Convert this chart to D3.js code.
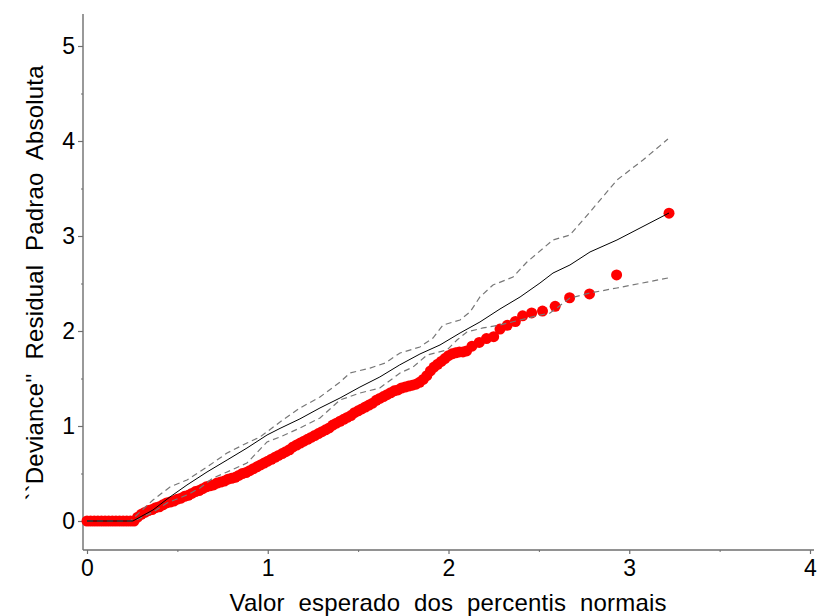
<!DOCTYPE html>
<html>
<head>
<meta charset="utf-8">
<script src="https://cdn.jsdelivr.net/npm/d3@7"></script>
<style>
  body { margin: 0; background: #fff; }
  text { font-family: "Liberation Sans", Arial, Helvetica, sans-serif; fill: #000; }
</style>
</head>
<body>
<svg id="chart" width="820" height="616"></svg>
<script>
// half-normal plot of absolute deviance residuals, with simulated envelope

// observed points (expected half-normal percentile, |deviance residual|)
var point_x = [0.00,0.02,0.04,0.06,0.08,0.10,0.12,0.14,0.16,0.18,0.20,0.22,0.24,0.26,
  0.28,0.30,0.32,0.34,0.36,0.38,0.40,0.42,0.44,0.46,0.48,0.50,0.52,0.54,0.56,0.58,
  0.60,0.62,0.64,0.66,0.68,0.70,0.72,0.74,0.76,0.78,0.80,0.82,0.84,0.86,0.88,0.90,
  0.92,0.94,0.96,0.98,1.00,1.02,1.04,1.06,1.08,1.10,1.12,1.14,1.16,1.18,1.20,1.22,
  1.24,1.26,1.28,1.30,1.32,1.34,1.36,1.38,1.40,1.42,1.44,1.46,1.48,1.50,1.52,1.54,
  1.56,1.58,1.60,1.62,1.64,1.66,1.68,1.70,1.72,1.74,1.76,1.78,1.80,1.82,1.84,1.86,
  1.88,1.90,1.92,1.94,1.96,1.98,2.00,2.02,2.04,2.06,2.08,2.10,
  2.13,2.17,2.21,2.25,2.285,2.325,2.37,2.41,2.46,2.52,2.59,2.67,2.78,2.93,3.22];
var point_y = [0,0,0,0,0,0,0,0,0,0,0,0,0,0,
  0.04,0.07,0.09,0.11,0.12,0.14,0.15,0.17,0.19,0.20,0.21,0.23,0.24,0.26,0.27,0.29,
  0.31,0.32,0.34,0.36,0.37,0.38,0.40,0.41,0.42,0.44,0.45,0.46,0.48,0.50,0.51,0.53,
  0.55,0.57,0.59,0.61,0.63,0.65,0.67,0.69,0.71,0.73,0.75,0.78,0.80,0.82,0.84,0.86,
  0.88,0.90,0.92,0.94,0.96,0.98,1.01,1.03,1.05,1.07,1.09,1.11,1.14,1.16,1.18,1.20,
  1.22,1.24,1.27,1.29,1.31,1.33,1.35,1.37,1.38,1.40,1.41,1.42,1.43,1.44,1.46,1.49,
  1.53,1.58,1.62,1.65,1.68,1.71,1.74,1.76,1.77,1.78,1.78,1.79,
  1.84,1.88,1.92,1.94,2.02,2.06,2.10,2.16,2.19,2.21,2.26,2.35,2.39,2.59,3.24];

// envelope: median (solid)
var mid_x = [0,0.254,0.365,0.459,0.553,0.664,0.775,0.885,0.996,1.068,1.178,1.289,1.40,1.51,
  1.62,1.73,1.842,1.953,2.064,2.174,2.285,2.396,2.506,2.578,2.672,2.783,2.932,3.22];
var mid_y = [0,0,0.116,0.253,0.379,0.516,0.642,0.768,0.905,0.975,1.075,1.19,1.295,1.41,
  1.516,1.643,1.758,1.853,1.979,2.095,2.232,2.358,2.505,2.61,2.695,2.832,2.958,3.242];

// envelope: upper limit (dashed)
var upper_x = [0,0.24,0.365,0.459,0.553,0.664,0.775,0.885,0.957,1.068,1.178,1.289,1.40,1.455,
  1.566,1.649,1.732,1.842,1.914,1.970,2.064,2.119,2.174,2.246,2.357,2.434,2.578,2.672,
  2.783,2.932,3.076,3.214];
var upper_y = [0,0,0.221,0.358,0.432,0.568,0.716,0.821,0.884,1.042,1.189,1.305,1.463,1.558,
  1.61,1.663,1.768,1.832,1.926,2.063,2.116,2.2,2.358,2.484,2.568,2.726,2.958,3.01,
  3.253,3.589,3.8,4.021];

// envelope: lower limit (dashed)
var lower_x = [0,0.26,0.365,0.443,0.553,0.625,0.697,0.775,0.885,0.996,1.068,1.178,1.289,1.40,
  1.51,1.62,1.732,1.804,1.881,1.992,2.047,2.102,2.191,2.285,2.396,2.506,2.562,2.672,
  2.783,2.932,3.214];
var lower_y = [0,0,0.095,0.189,0.274,0.347,0.453,0.516,0.61,0.832,0.884,0.979,1.084,1.274,
  1.347,1.4,1.558,1.621,1.747,1.8,1.905,1.99,2.032,2.063,2.116,2.168,2.189,2.347,
  2.4,2.453,2.558];

var x_ticks = [0, 1, 2, 3, 4];
var x_minor = [0.5, 1.5, 2.5, 3.5];
var y_ticks = [0, 1, 2, 3, 4, 5];
var y_minor = [0.5, 1.5, 2.5, 3.5, 4.5];

var x_title = "Valor  esperado  dos  percentis  normais";
var y_title = "``Deviance''  Residual  Padrao  Absoluta";

var svg = d3.select("#chart");

var x = d3.scaleLinear().domain([0, 4]).range([87, 810]);
var y = d3.scaleLinear().domain([0, 5]).range([521, 46]);

var axis_left = 83, axis_bottom = 550, axis_top = 14, axis_right = 814;
var axis_color = "#6e6e6e";
var font = '"Liberation Sans", Arial, sans-serif';

// axis lines
svg.append("line")
    .attr("x1", axis_left).attr("x2", axis_left)
    .attr("y1", axis_top).attr("y2", axis_bottom)
    .attr("stroke", axis_color).attr("stroke-width", 1.4);
svg.append("line")
    .attr("x1", axis_left).attr("x2", axis_right)
    .attr("y1", axis_bottom).attr("y2", axis_bottom)
    .attr("stroke", axis_color).attr("stroke-width", 1.4);

// y axis ticks + labels
var gy = svg.append("g").attr("transform", "translate(" + axis_left + ",0)")
    .call(d3.axisLeft(y).tickValues(y_ticks).tickSize(5).tickPadding(3).tickFormat(d3.format("d")));
gy.select(".domain").remove();
gy.selectAll(".tick line").attr("stroke", axis_color).attr("stroke-width", 1.2);
gy.selectAll(".tick text").attr("font-size", 23)
    .attr("font-family", font).attr("fill", "#000");

var gym = svg.append("g").attr("transform", "translate(" + axis_left + ",0)")
    .call(d3.axisLeft(y).tickValues(y_minor).tickSize(2).tickFormat(""));
gym.select(".domain").remove();
gym.selectAll(".tick line").attr("stroke", axis_color);

// x axis ticks + labels
var gx = svg.append("g").attr("transform", "translate(0," + axis_bottom + ")")
    .call(d3.axisBottom(x).tickValues(x_ticks).tickSize(4).tickPadding(6).tickFormat(d3.format("d")));
gx.select(".domain").remove();
gx.selectAll(".tick line").attr("stroke", axis_color).attr("stroke-width", 1.2);
gx.selectAll(".tick text").attr("font-size", 23)
    .attr("font-family", font).attr("fill", "#000");

var gxm = svg.append("g").attr("transform", "translate(0," + axis_bottom + ")")
    .call(d3.axisBottom(x).tickValues(x_minor).tickSize(2).tickFormat(""));
gxm.select(".domain").remove();
gxm.selectAll(".tick line").attr("stroke", axis_color);

// axis titles
svg.append("text")
    .attr("x", 448).attr("y", 611)
    .attr("text-anchor", "middle")
    .attr("font-size", 24)
    .attr("textLength", 437).attr("lengthAdjust", "spacing")
    .style("white-space", "pre")
    .text(x_title);

svg.append("text")
    .attr("transform", "translate(43,283) rotate(-90)")
    .attr("text-anchor", "middle")
    .attr("font-size", 24)
    .attr("textLength", 435).attr("lengthAdjust", "spacing")
    .style("white-space", "pre")
    .text(y_title);

// points
var points = point_x.map(function(d, i) { return {x: d, y: point_y[i]}; });

svg.selectAll(".pt")
    .data(points)
    .enter().append("circle")
    .attr("class", "pt")
    .attr("cx", function(d) { return x(d.x); })
    .attr("cy", function(d) { return y(d.y); })
    .attr("r", 5.5)
    .attr("fill", "#ff0000");

// envelope lines
function makeLine(xs, ys) {
    return xs.map(function(d, i) { return [d, ys[i]]; });
}
var line = d3.line().x(function(d) { return x(d[0]); }).y(function(d) { return y(d[1]); });

svg.append("path")
    .attr("d", line(makeLine(upper_x, upper_y)))
    .attr("fill", "none").attr("stroke", "#777").attr("stroke-width", 1.2)
    .attr("stroke-dasharray", "6,4");
svg.append("path")
    .attr("d", line(makeLine(lower_x, lower_y)))
    .attr("fill", "none").attr("stroke", "#777").attr("stroke-width", 1.2)
    .attr("stroke-dasharray", "6,4");
svg.append("path")
    .attr("d", line(makeLine(mid_x, mid_y)))
    .attr("fill", "none").attr("stroke", "#000").attr("stroke-width", 1);
</script>
</body>
</html>
